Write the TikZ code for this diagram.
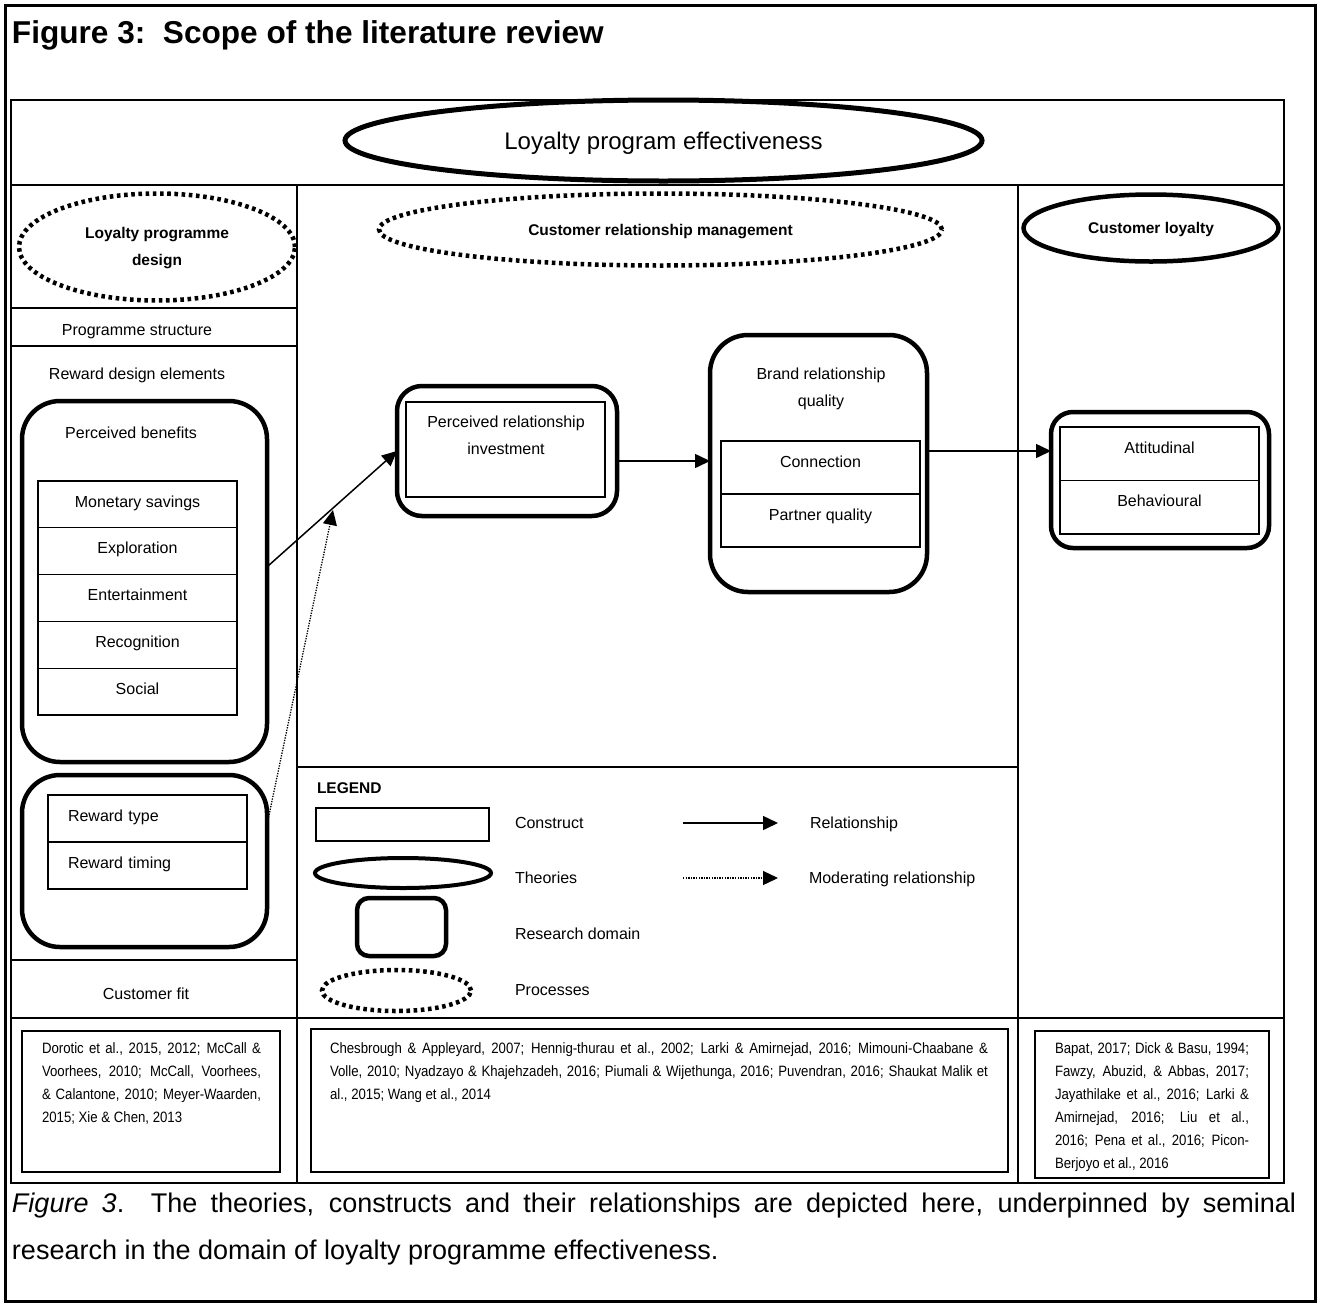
\documentclass[tikz,border=0pt]{standalone}
\usepackage{fontspec}
\setmainfont{Liberation Sans}
\newfontfamily\narrowsans[FakeStretch=0.88]{Liberation Sans}
\usetikzlibrary{arrows.meta,shapes.geometric,calc}

% font sizes (1pt of text = 1 unit of the drawing)
\newcommand\ftitle{\fontsize{31.6}{36}\selectfont\bfseries}
\newcommand\fbig{\fontsize{24}{28}\selectfont}
\newcommand\fbody{\fontsize{16}{27}\selectfont}
\newcommand\fbold{\fontsize{15.5}{27}\selectfont\bfseries}
\newcommand\fcite{\narrowsans\fontsize{15}{23}\selectfont\hyphenpenalty=10000\exhyphenpenalty=10000}
\newcommand\fcap{\fontsize{27}{47}\selectfont\hyphenpenalty=10000\exhyphenpenalty=10000}

\begin{document}
\begin{tikzpicture}[x=1pt,y=-1pt,
  every node/.style={inner sep=0pt, outer sep=0pt},
  tbl/.style={line width=1.5pt},
  lpcon/.style={draw, rectangle, line width=1.3pt},
  lpdomain/.style={draw, rectangle, line width=4.5pt, rounded corners=#1},
  lptheory/.style={draw, ellipse, line width=4.5pt},
  lpprocess/.style={draw, ellipse, line width=4.5pt, dash pattern=on 3.6pt off 3.6pt},
  lpcite/.style={draw, rectangle, line width=2pt},
  lbl/.style={font=\fbody, text height=11.5pt, text depth=0pt},
  lblb/.style={font=\fbold, text height=11.1pt, text depth=0pt},
  lpcell/.style={lpcon, minimum width=199pt, inner ysep=14.5pt, font=\fbody,
                 text height=11.5pt, text depth=#1},
  lparrow/.style={line width=1.5pt, -{Triangle[length=15pt,width=14pt]}},
  lpmod/.style={line width=1.3pt, dash pattern=on 1.3pt off 1.3pt,
                -{Triangle[length=15pt,width=14pt]}},
]
\useasboundingbox (0,0) rectangle (1319,1304);

% page frame and heading
\draw[line width=3pt] (5,5) rectangle (1315,1301);
\node[anchor=west, font=\ftitle, text height=22.6pt, text depth=0pt] (title)
  at (12,32.5) {Figure 3:\ \ Scope of the literature review};

% table grid
\draw[tbl] (11,100) rectangle (1284,1183);
\draw[tbl] (11,185) -- (1284,185);
\draw[tbl] (11,1018) -- (1284,1018);
\draw[tbl] (297,185) -- (297,1183);
\draw[tbl] (1018,185) -- (1018,1183);
\draw[tbl] (11,308) -- (297,308);
\draw[tbl] (11,346) -- (297,346);
\draw[tbl] (11,960) -- (297,960);
\draw[tbl] (297,767) -- (1018,767);

% overall theory
\node[lptheory, line width=5pt, minimum width=637pt, minimum height=81pt,
      font=\fbig, text height=17.2pt, text depth=0pt] (lpe)
  at (663.5,140.5) {Loyalty program effectiveness};

% left column: loyalty programme design
\node[lpprocess, minimum width=276pt, minimum height=107pt] (lpd) at (157,247) {};
\node[anchor=north, align=center, font=\fbold] (lpdT) at (157,227.5)
  {Loyalty programme\\design};
\node[lbl] (ps) at (137,330) {Programme structure};
\node[lbl] (rde) at (137,374) {Reward design elements};

\node[lpdomain=38pt, minimum width=245pt, minimum height=361pt] (pb) at (144.5,581.5) {};
\node[lbl] (pbT) at (131,433) {Perceived benefits};
\node[lpcell=6.3pt, anchor=north] (ms) at (137.5,481) {Monetary savings};
\node[lpcell=6.3pt, anchor=north] (ex) at (ms.south) {Exploration};
\node[lpcell=6.3pt, anchor=north] (en) at (ex.south) {Entertainment};
\node[lpcell=6.3pt, anchor=north] (rec) at (en.south) {Recognition};
\node[lpcell=6.3pt, anchor=north] (soc) at (rec.south) {Social};

\node[lpdomain=38pt, minimum width=245pt, minimum height=172pt] (rw) at (144.5,861) {};
\node[lpcell=6.5pt, anchor=north, text width=159pt, align=left, inner xsep=20pt]
  (rty) at (147.5,795) {Reward type};
\node[lpcell=6.5pt, anchor=north, text width=159pt, align=left, inner xsep=20pt]
  (rti) at (rty.south) {Reward timing};

\node[lbl] (cf) at (146,994) {Customer fit};

% middle column: customer relationship management
\node[lpprocess, minimum width=563pt, minimum height=72pt, lblb] (crm)
  at (660.5,229.5) {Customer relationship management};

\node[lpdomain=25pt, minimum width=220pt, minimum height=130pt] (pri) at (507,451) {};
\node[lpcon, minimum width=199pt, minimum height=95pt] (priIn) at (505.5,449.5) {};
\node[anchor=north, align=center, font=\fbody] (priT) at (506,416)
  {Perceived relationship\\investment};

\node[lpdomain=38pt, minimum width=217pt, minimum height=257pt] (brq) at (818.5,463.5) {};
\node[anchor=north, align=center, font=\fbody] (brqT) at (821,368)
  {Brand relationship\\quality};
\node[lpcell=12.5pt, anchor=north] (con) at (820.5,441) {Connection};
\node[lpcell=12.5pt, anchor=north] (pq) at (con.south) {Partner quality};

% right column: customer loyalty
\node[lptheory, minimum width=255pt, minimum height=67pt, lblb] (cl)
  at (1151,228) {Customer loyalty};
\node[lpdomain=22pt, minimum width=218pt, minimum height=136pt] (clb) at (1160,480) {};
\node[lpcell=13pt, anchor=north] (att) at (1159.5,427) {Attitudinal};
\node[lpcell=13pt, anchor=north] (beh) at (att.south) {Behavioural};

% relationships
\coordinate (pbOut) at (268,566);
\coordinate (rwOut) at (268,820);
\coordinate (modTip) at (333,510);
\draw[lparrow] (pbOut) -- (pri.west);
\draw[lpmod] (rwOut) -- (modTip);
\draw[lparrow] ([yshift=-10pt]pri.east) -- ([yshift=-10pt]pri.east -| brq.west);
\draw[lparrow] (brq.east |- 0,451) -- (clb.west |- 0,451);

% legend
\node[lblb, anchor=west] (leg) at (317,788) {LEGEND};
\node[lpcon, minimum width=173pt, minimum height=33pt] (lgC) at (402.5,824.5) {};
\node[lptheory, line width=4pt, minimum width=176pt, minimum height=30pt] (lgT) at (403,873) {};
\node[lpdomain=12pt, minimum width=89pt, minimum height=58pt] (lgR) at (401.5,927) {};
\node[lpprocess, minimum width=149pt, minimum height=41pt] (lgP) at (396.5,990.5) {};
\node[lbl, anchor=west] (lgCt) at (515,823) {Construct};
\node[lbl, anchor=west] (lgTt) at (515,878) {Theories};
\node[lbl, anchor=west] (lgRt) at (515,934) {Research domain};
\node[lbl, anchor=west] (lgPt) at (515,990) {Processes};
\coordinate (lgA1) at (683,823);
\coordinate (lgA2) at (778,823);
\coordinate (lgM1) at (683,878);
\coordinate (lgM2) at (778,878);
\draw[lparrow] (lgA1) -- (lgA2);
\draw[lpmod] (lgM1) -- (lgM2);
\node[lbl, anchor=west] (lgAt) at (810,823) {Relationship};
\node[lbl, anchor=west] (lgMt) at (809,878) {Moderating relationship};

% supporting literature
\node[lpcite, minimum width=258pt, minimum height=141pt] (cbL) at (151,1101.5) {};
\node[lpcite, minimum width=697pt, minimum height=143pt] (cbM) at (659.5,1100.5) {};
\node[lpcite, minimum width=234pt, minimum height=147pt] (cbR) at (1152,1104.5) {};
\node[anchor=north west, text width=219pt, align=justify, font=\fcite] (ctL) at (42,1042.5)
  {Dorotic et al., 2015, 2012; McCall \&\linebreak
   Voorhees, 2010; McCall, Voorhees,\linebreak
   \& Calantone, 2010; Meyer-Waarden,\linebreak
   2015; Xie \& Chen, 2013};
\node[anchor=north west, text width=658pt, align=justify, font=\fcite] (ctM) at (330,1042.5)
  {Chesbrough \& Appleyard, 2007; Hennig-thurau et al., 2002; Larki \& Amirnejad, 2016; Mimouni-Chaabane \&\linebreak
   Volle, 2010; Nyadzayo \& Khajehzadeh, 2016; Piumali \& Wijethunga, 2016; Puvendran, 2016; Shaukat Malik et\linebreak
   al., 2015; Wang et al., 2014};
\node[anchor=north west, text width=194pt, align=justify, font=\fcite] (ctR) at (1055,1042.5)
  {Bapat, 2017; Dick \& Basu, 1994;\linebreak
   Fawzy, Abuzid, \& Abbas, 2017;\linebreak
   Jayathilake et al., 2016; Larki \&\linebreak
   Amirnejad, 2016; Liu et al.,\linebreak
   2016; Pena et al., 2016; Picon-\linebreak
   Berjoyo et al., 2016};

% caption
\node[anchor=north west, text width=1284pt, align=justify, font=\fcap] (cap) at (12,1193)
  {\textit{Figure 3}.\ \ The theories, constructs and their relationships are depicted here, underpinned by seminal\linebreak
   research in the domain of loyalty programme effectiveness.};
\end{tikzpicture}
\end{document}
